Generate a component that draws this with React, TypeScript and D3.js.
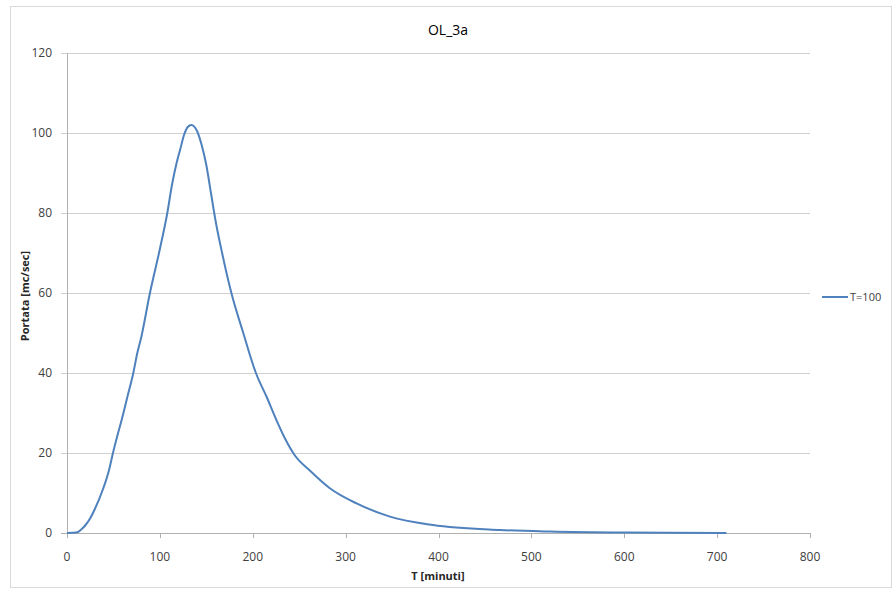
import React, { useEffect, useRef } from 'react';
import * as d3 from 'd3';

// Hydrograph: time in minutes, discharge in mc/sec
const timeMin = [0, 10, 15, 20, 25, 30, 38.8, 45, 49.5, 55, 58.9, 65, 71.4, 75.7, 80, 89.3, 100, 108, 113, 118, 122, 126, 130, 134, 137, 140, 145, 150, 155, 160, 167, 177, 189.8, 203.4, 215, 225, 235, 245, 262, 283, 311.8, 347.7, 394, 466, 520, 600, 710];
const flow = [0, 0.1, 0.8, 2, 3.7, 6, 11, 15.5, 20, 25, 28.3, 34, 40, 45, 49, 60, 71, 80, 87, 92.5, 96, 99.5, 101.5, 102, 101.6, 100.5, 97, 92, 85, 78, 70, 60, 50, 40, 34, 28.5, 23.5, 19.5, 15.5, 11.2, 7.4, 4.1, 2, 0.75, 0.35, 0.1, 0];

const xTicks = [0, 100, 200, 300, 400, 500, 600, 700, 800];
const yTicks = [0, 20, 40, 60, 80, 100, 120];

const chartTitle = 'OL_3a';
const xTitle = 'T [minuti]';
const yTitle = 'Portata [mc/sec]';
const seriesName = 'T=100';

const App = () => {
  const svgRef = useRef<SVGSVGElement>(null);

  useEffect(() => {
    const width = 895;
    const height = 589;
    const font = '"Open Sans", "DejaVu Sans", sans-serif';
    const lineColor = '#4f81bd';

    d3.select(svgRef.current).selectAll('*').remove();
    const svg = d3.select(svgRef.current)
      .attr('width', width)
      .attr('height', height);

    svg.append('rect')
      .attr('x', 0).attr('y', 0)
      .attr('width', width).attr('height', height)
      .attr('fill', '#fff');

    // outer chart frame
    svg.append('rect')
      .attr('x', 10.5).attr('y', 6.5)
      .attr('width', 881).attr('height', 581)
      .attr('fill', 'none')
      .attr('stroke', '#d9d9d9');

    const plot = { left: 67, right: 810, top: 53, bottom: 533 };

    const x = d3.scaleLinear().domain([0, 800]).range([plot.left, plot.right]);
    const y = d3.scaleLinear().domain([0, 120]).range([plot.bottom, plot.top]);

    // horizontal gridlines
    svg.append('g')
      .selectAll('line')
      .data(yTicks.filter(d => d > 0))
      .join('line')
      .attr('x1', plot.left - 6)
      .attr('x2', plot.right)
      .attr('y1', d => Math.round(y(d)) + 0.5)
      .attr('y2', d => Math.round(y(d)) + 0.5)
      .attr('stroke', '#d0d0d0');

    // axis lines
    svg.append('line')
      .attr('x1', plot.left + 0.5).attr('x2', plot.left + 0.5)
      .attr('y1', plot.top).attr('y2', plot.bottom)
      .attr('stroke', '#b0b0b0');
    svg.append('line')
      .attr('x1', plot.left - 6).attr('x2', plot.right)
      .attr('y1', plot.bottom + 0.5).attr('y2', plot.bottom + 0.5)
      .attr('stroke', '#b0b0b0');

    // x tick marks
    svg.append('g')
      .selectAll('line')
      .data(xTicks)
      .join('line')
      .attr('x1', d => Math.round(x(d)) + 0.5)
      .attr('x2', d => Math.round(x(d)) + 0.5)
      .attr('y1', plot.bottom)
      .attr('y2', plot.bottom + 5)
      .attr('stroke', '#b0b0b0');

    // y tick labels
    svg.append('g')
      .selectAll('text')
      .data(yTicks)
      .join('text')
      .attr('x', 52)
      .attr('y', d => y(d))
      .attr('dy', '0.35em')
      .attr('text-anchor', 'end')
      .attr('font-family', font)
      .attr('font-size', 12)
      .attr('fill', '#404040')
      .text(d => d);

    // x tick labels
    svg.append('g')
      .selectAll('text')
      .data(xTicks)
      .join('text')
      .attr('x', d => x(d))
      .attr('y', 557)
      .attr('dy', '0.35em')
      .attr('text-anchor', 'middle')
      .attr('font-family', font)
      .attr('font-size', 12)
      .attr('fill', '#404040')
      .text(d => d);

    // the hydrograph
    const line = d3.line<number>()
      .x((_, i) => x(timeMin[i]))
      .y(d => y(d))
      .curve(d3.curveMonotoneX);

    svg.append('path')
      .datum(flow)
      .attr('d', line)
      .attr('fill', 'none')
      .attr('stroke', lineColor)
      .attr('stroke-width', 2)
      .attr('stroke-linejoin', 'round');

    // titles
    svg.append('text')
      .attr('x', 448).attr('y', 30)
      .attr('dy', '0.35em')
      .attr('text-anchor', 'middle')
      .attr('font-family', font)
      .attr('font-size', 14)
      .attr('fill', '#000')
      .text(chartTitle);

    svg.append('text')
      .attr('x', 438).attr('y', 576)
      .attr('dy', '0.35em')
      .attr('text-anchor', 'middle')
      .attr('font-family', font)
      .attr('font-size', 11)
      .attr('font-weight', 'bold')
      .attr('fill', '#262626')
      .text(xTitle);

    svg.append('text')
      .attr('transform', 'translate(25,296) rotate(-90)')
      .attr('dy', '0.35em')
      .attr('text-anchor', 'middle')
      .attr('font-family', font)
      .attr('font-size', 11)
      .attr('font-weight', 'bold')
      .attr('fill', '#262626')
      .text(yTitle);

    // legend
    const legend = svg.append('g').attr('transform', 'translate(822,297)');
    legend.append('line')
      .attr('x1', 0).attr('x2', 26)
      .attr('y1', 0).attr('y2', 0)
      .attr('stroke', lineColor)
      .attr('stroke-width', 2);
    legend.append('text')
      .attr('x', 28).attr('y', 0)
      .attr('dy', '0.35em')
      .attr('font-family', font)
      .attr('font-size', 11)
      .attr('fill', '#404040')
      .text(seriesName);
  }, []);

  return <svg ref={svgRef} style={{ position: 'absolute', left: 0, top: 0 }}></svg>;
};

export default App;
